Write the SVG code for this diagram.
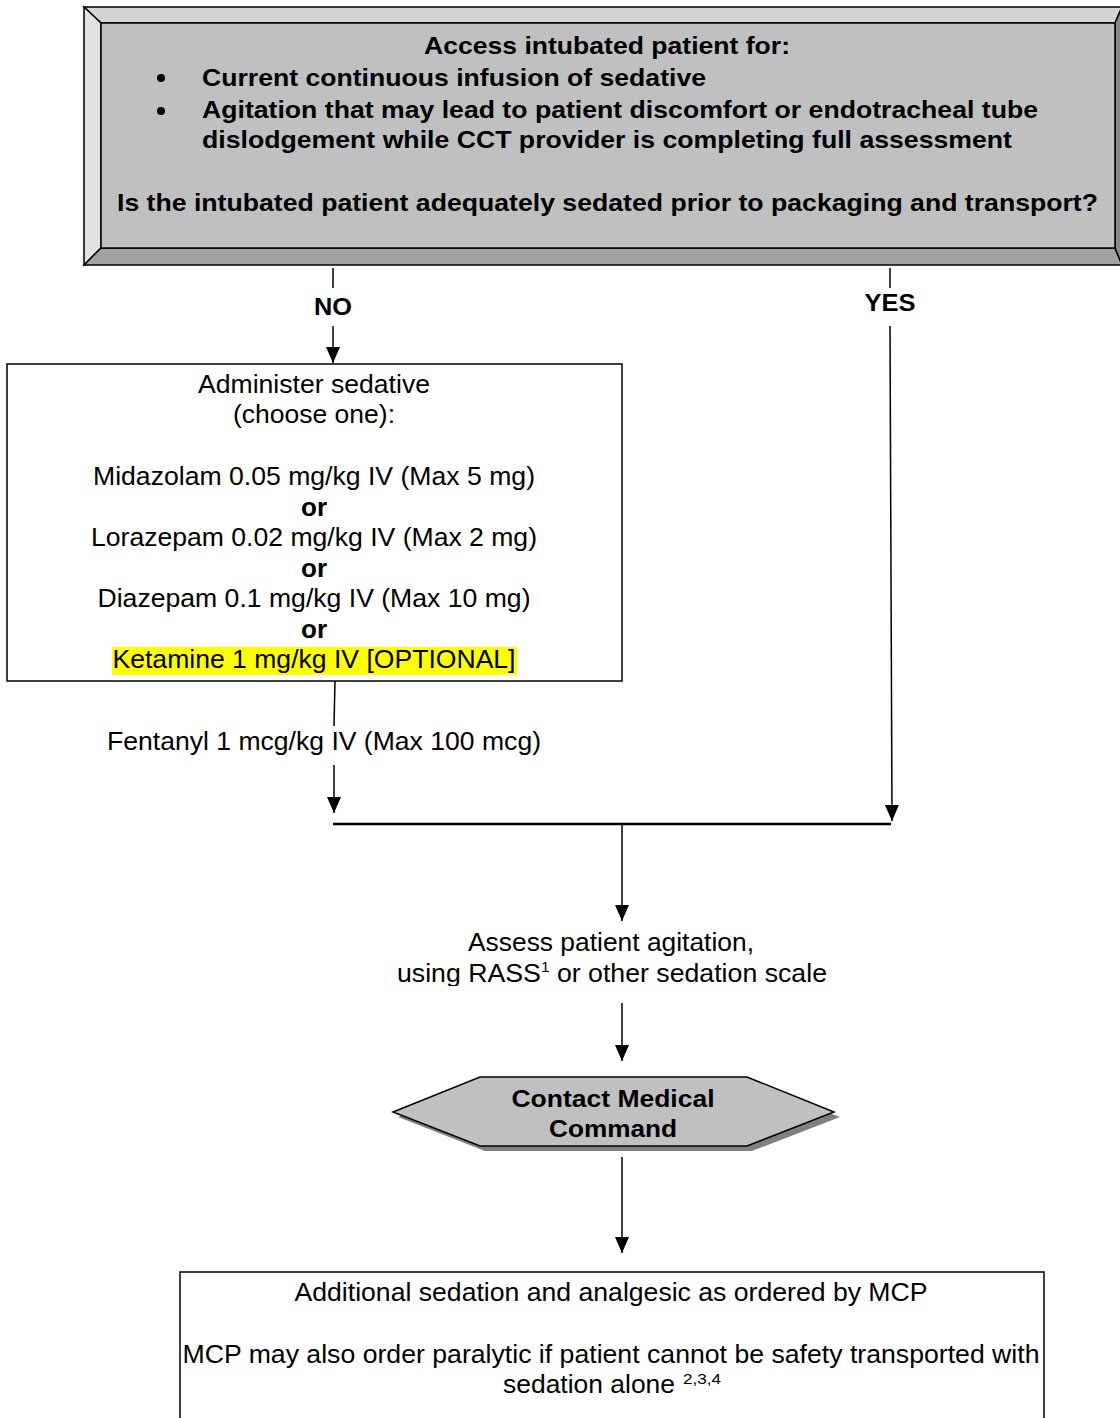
<svg xmlns="http://www.w3.org/2000/svg" width="1120" height="1418" viewBox="0 0 1120 1418">
<style>
  text { font-family: "Liberation Sans", Arial, sans-serif; fill: #000; }
  .b { font-weight: bold; }
  .t24 { font-size: 24px; }
  .t26 { font-size: 26px; }
  .mid { text-anchor: middle; }
  .ln { stroke: #000; stroke-width: 1.5; fill: none; }
  .box { fill: #fff; stroke: #000; stroke-width: 1.5; }
</style>
<defs>
  <marker id="arr" markerUnits="userSpaceOnUse" viewBox="0 0 16 14" refX="16" refY="7" markerWidth="16" markerHeight="14" orient="auto">
    <path d="M0,0 L16,7 L0,14 z" fill="#000"/>
  </marker>
  <clipPath id="clipAssess"><rect x="380" y="920" width="470" height="66"/></clipPath>
</defs>

<g id="top-box">
  <polygon points="84,7 1122,7 1115,23 101,23" fill="#d4d4d4" stroke="#000" stroke-width="1.5"/>
  <polygon points="84,7 101,23 101,248 84,265" fill="#e2e2e2" stroke="#000" stroke-width="1.5"/>
  <polygon points="84,265 101,248 1115,248 1122,265" fill="#a2a2a2" stroke="#000" stroke-width="1.5"/>
  <polygon points="1115,23 1122,7 1122,265 1115,248" fill="#8a8a8a" stroke="#000" stroke-width="1.5"/>
  <rect x="101" y="23" width="1014" height="225" fill="#c0c0c0" stroke="#000" stroke-width="1.5"/>
  <text class="b t24" x="424" y="54" textLength="366" lengthAdjust="spacingAndGlyphs">Access intubated patient for:</text>
  <circle cx="161" cy="78" r="4" fill="#000"/>
  <text class="b t24" x="202" y="86" textLength="504" lengthAdjust="spacingAndGlyphs">Current continuous infusion of sedative</text>
  <circle cx="161" cy="111" r="4" fill="#000"/>
  <text class="b t24" x="202" y="118" textLength="836" lengthAdjust="spacingAndGlyphs">Agitation that may lead to patient discomfort or endotracheal tube</text>
  <text class="b t24" x="202" y="148" textLength="810" lengthAdjust="spacingAndGlyphs">dislodgement while CCT provider is completing full assessment</text>
  <text class="b t24" x="117" y="211" textLength="981" lengthAdjust="spacingAndGlyphs">Is the intubated patient adequately sedated prior to packaging and transport?</text>
</g>

<g id="connectors">
  <line class="ln" x1="333" y1="268" x2="333" y2="288"/>
  <text class="b t24 mid" x="333" y="315" textLength="38" lengthAdjust="spacingAndGlyphs">NO</text>
  <line class="ln" x1="333" y1="326" x2="333" y2="363" marker-end="url(#arr)"/>
  <line class="ln" x1="890" y1="268" x2="890" y2="288"/>
  <text class="b t24 mid" x="890" y="311" textLength="51" lengthAdjust="spacingAndGlyphs">YES</text>
  <line class="ln" x1="890" y1="326" x2="892" y2="821" marker-end="url(#arr)"/>
  <line class="ln" x1="335" y1="681" x2="334" y2="726"/>
  <line class="ln" x1="334" y1="765" x2="334" y2="813" marker-end="url(#arr)"/>
  <line x1="333" y1="824" x2="891" y2="824" stroke="#000" stroke-width="2.5"/>
  <line class="ln" x1="622" y1="825" x2="622" y2="921" marker-end="url(#arr)"/>
  <line class="ln" x1="622" y1="1003" x2="622" y2="1061" marker-end="url(#arr)"/>
  <line class="ln" x1="622" y1="1157" x2="622" y2="1253" marker-end="url(#arr)"/>
  <text class="t26" x="107" y="750" textLength="434" lengthAdjust="spacingAndGlyphs">Fentanyl 1 mcg/kg IV (Max 100 mcg)</text>
</g>

<g id="sedative-box">
  <rect class="box" x="7" y="364" width="615" height="317"/>
  <rect x="112" y="647" width="405" height="28" fill="#ffff00"/>
  <text class="t26 mid" x="314" y="393" textLength="232" lengthAdjust="spacingAndGlyphs">Administer sedative</text>
  <text class="t26 mid" x="314" y="423" textLength="162" lengthAdjust="spacingAndGlyphs">(choose one):</text>
  <text class="t26 mid" x="314" y="485" textLength="442" lengthAdjust="spacingAndGlyphs">Midazolam 0.05 mg/kg IV (Max 5 mg)</text>
  <text class="b t26 mid" x="314" y="516">or</text>
  <text class="t26 mid" x="314" y="546" textLength="446" lengthAdjust="spacingAndGlyphs">Lorazepam 0.02 mg/kg IV (Max 2 mg)</text>
  <text class="b t26 mid" x="314" y="577">or</text>
  <text class="t26 mid" x="314" y="607" textLength="433" lengthAdjust="spacingAndGlyphs">Diazepam 0.1 mg/kg IV (Max 10 mg)</text>
  <text class="b t26 mid" x="314" y="638">or</text>
  <text class="t26 mid" x="314" y="668" textLength="403" lengthAdjust="spacingAndGlyphs">Ketamine 1 mg/kg IV [OPTIONAL]</text>
</g>

<g id="assess" clip-path="url(#clipAssess)">
  <text class="t26 mid" x="611" y="951" textLength="286" lengthAdjust="spacingAndGlyphs">Assess patient agitation,</text>
  <text class="t26" x="397" y="982" textLength="430" lengthAdjust="spacingAndGlyphs">using RASS<tspan font-size="15" dy="-10">1</tspan><tspan dy="10"> or other sedation scale</tspan></text>
</g>

<g id="contact-mcp">
  <polygon points="398,1117 485,1083 752,1083 840,1117 752,1151 485,1151" fill="#808080"/>
  <polygon points="393,1112 480,1077 747,1077 834,1112 747,1146 480,1146" fill="#c0c0c0" stroke="#000" stroke-width="1.5"/>
  <text class="b t24 mid" x="613" y="1107" textLength="203" lengthAdjust="spacingAndGlyphs">Contact Medical</text>
  <text class="b t24 mid" x="613" y="1137" textLength="128" lengthAdjust="spacingAndGlyphs">Command</text>
</g>

<g id="mcp-orders">
  <rect class="box" x="180" y="1272" width="864" height="160"/>
  <text class="t26 mid" x="611" y="1301" textLength="633" lengthAdjust="spacingAndGlyphs">Additional sedation and analgesic as ordered by MCP</text>
  <text class="t26 mid" x="611" y="1363" textLength="857" lengthAdjust="spacingAndGlyphs">MCP may also order paralytic if patient cannot be safety transported with</text>
  <text class="t26" x="503" y="1393" textLength="172" lengthAdjust="spacingAndGlyphs">sedation alone</text>
  <text x="683" y="1384" font-size="15" textLength="38" lengthAdjust="spacingAndGlyphs">2,3,4</text>
</g>
</svg>
